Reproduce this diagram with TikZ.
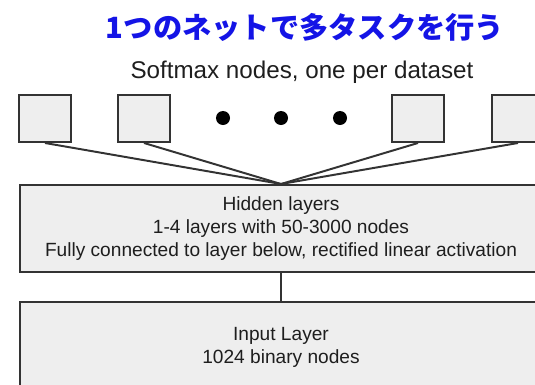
\documentclass[tikz,border=0pt]{standalone}
\usepackage{fontspec}
\setmainfont{Liberation Sans}
\newfontfamily\jpfont{Noto Sans CJK JP}
\usepackage{tikz}
\usetikzlibrary{positioning,calc}
\definecolor{nnInk}{HTML}{1E1E1E}
\definecolor{nnLine}{HTML}{333333}
\definecolor{nnFill}{HTML}{EEEEEE}
\definecolor{nnTitle}{HTML}{1414E6}
\tikzset{
  % Softmax output box (small square)
  smbox/.style={rectangle,draw=nnLine,fill=nnFill,line width=1.4pt,
    minimum width=1.3cm,minimum height=1.175cm,inner sep=0pt},
  % Wide layer box
  lbox/.style={rectangle,draw=nnLine,fill=nnFill,line width=1.4pt,
    minimum width=13.05cm,minimum height=2.175cm,align=center,
    font=\fontsize{13.6}{16.3}\selectfont,text=nnInk},
  % Ellipsis dot
  dotn/.style={circle,fill=black,minimum size=0.35cm,inner sep=0pt},
  % Connector lines
  conn/.style={draw=nnLine,line width=1.4pt},
  lbl/.style={font=\fontsize{17.2}{20}\selectfont,text=nnInk},
  ttl/.style={font=\jpfont\bfseries\fontsize{20.8}{24}\selectfont,text=nnTitle},
}
\begin{document}
\begin{tikzpicture}[x=0.025cm,y=0.025cm]
  \useasboundingbox (0,0) rectangle (535,384);
  \clip (0,0) rectangle (535,384);

  % Title and caption
  \node[ttl] (title) at (305,357) {1つのネットで多タスクを行う};
  \node[lbl] (cap) at (302,312) {Softmax nodes, one per dataset};

  % Softmax boxes and dots
  \foreach \i/\x in {1/45,2/144,3/418,4/518}
    \node[smbox] (sm\i) at (\x,265.5) {};
  \foreach \i/\x in {1/223,2/281,3/340}
    \node[dotn] (dot\i) at (\x,266) {};

  % Layers
  \node[lbox] (hid) at (281,155.5)
    {Hidden layers\\1-4 layers with 50-3000 nodes\\
     Fully connected to layer below, rectified linear activation};
  \node[lbox,minimum height=2.25cm,below=0.7cm of hid] (inp)
    {Input Layer\\1024 binary nodes};

  \foreach \i in {1,...,4}
    \draw[conn] (sm\i.south) -- (hid.north);
  \draw[conn] (hid.south) -- (inp.north);
\end{tikzpicture}
\end{document}
